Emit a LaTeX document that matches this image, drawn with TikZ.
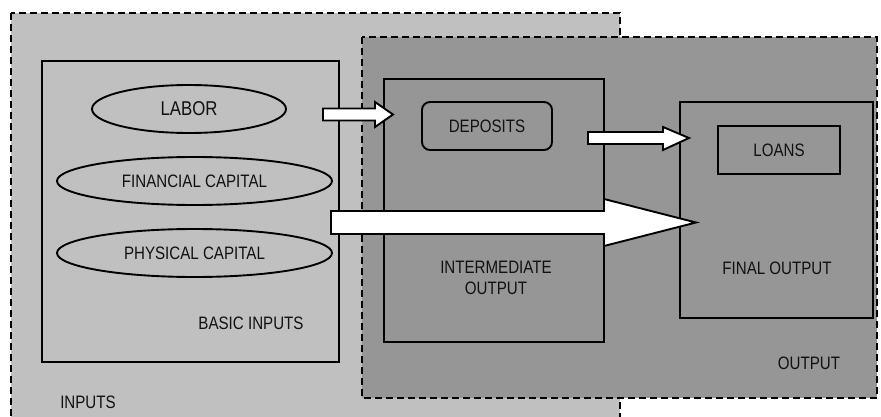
\documentclass[tikz,border=0pt]{standalone}
\usepackage{fontspec}
\setmainfont{Liberation Sans}[FakeStretch=0.84]
\usetikzlibrary{shapes.geometric}
\definecolor{lightg}{HTML}{C0C0C0}
\definecolor{darkg}{HTML}{969696}
\definecolor{txt}{HTML}{111111}
\begin{document}
\begin{tikzpicture}[x=1pt,y=-1pt,
  region/.style={draw=black,line width=1.8pt,dash pattern=on 7pt off 4pt},
  box/.style={draw=black,line width=1.9pt,rectangle,inner sep=0pt},
  oval/.style={draw=black,line width=1.9pt,ellipse,inner sep=0pt,fill=lightg},
  lbl/.style={text=txt,inner sep=0pt,font=\fontsize{18}{21}\selectfont,align=center},
  blockarrow/.style={draw=black,line width=1.9pt,fill=white,line join=miter}
]
\useasboundingbox (0,0) rectangle (881,417);
\clip (0,0) rectangle (881,417);
% regions
\path[region,fill=lightg] (11,13) rectangle (620,440);
\path[region,fill=darkg] (362,37) rectangle (877,398);
% basic inputs
\node[box,minimum width=297pt,minimum height=301pt] (basic) at (190.5,211.5) {};
\node[oval,minimum width=194pt,minimum height=48pt] (labor) at (189,109) {};
\node[lbl,font=\fontsize{20}{23}\selectfont] at (labor.center) {LABOR};
\node[oval,minimum width=275pt,minimum height=48pt] (fin) at (194.5,181) {};
\node[lbl] at (fin.center) {FINANCIAL CAPITAL};
\node[oval,minimum width=275pt,minimum height=48pt] (phys) at (194.5,253) {};
\node[lbl] at (phys.center) {PHYSICAL CAPITAL};
\node[lbl] (basiclbl) at (251,323) {BASIC INPUTS};
\node[lbl] (inputslbl) at (88,402) {INPUTS};
% intermediate
\node[box,fill=darkg,minimum width=220pt,minimum height=263pt] (inter) at (494,210.5) {};
\node[box,rounded corners=8pt,minimum width=130pt,minimum height=48pt] (dep) at (487,126) {};
\node[lbl] at (dep.center) {DEPOSITS};
\node[lbl] (interlbl) at (496,278) {INTERMEDIATE\\OUTPUT};
% final
\node[box,minimum width=193pt,minimum height=216pt] (final) at (776.5,210) {};
\node[box,minimum width=122pt,minimum height=48pt] (loans) at (779,150) {};
\node[lbl] at (loans.center) {LOANS};
\node[lbl] (finallbl) at (777,268) {FINAL OUTPUT};
\node[lbl] (outputlbl) at (809,363) {OUTPUT};
% block arrows
\draw[blockarrow] (323,108.5) -- (375,108.5) -- (375,102) -- (393,114.5) -- (375,127) -- (375,120.5) -- (323,120.5) -- cycle;
\draw[blockarrow] (588,132) -- (663,132) -- (663,127) -- (689,138) -- (663,150) -- (663,144) -- (588,144) -- cycle;
\draw[blockarrow] (331,211) -- (604,211) -- (604,199) -- (696,222.5) -- (604,246) -- (604,234) -- (331,234) -- cycle;
\end{tikzpicture}
\end{document}
